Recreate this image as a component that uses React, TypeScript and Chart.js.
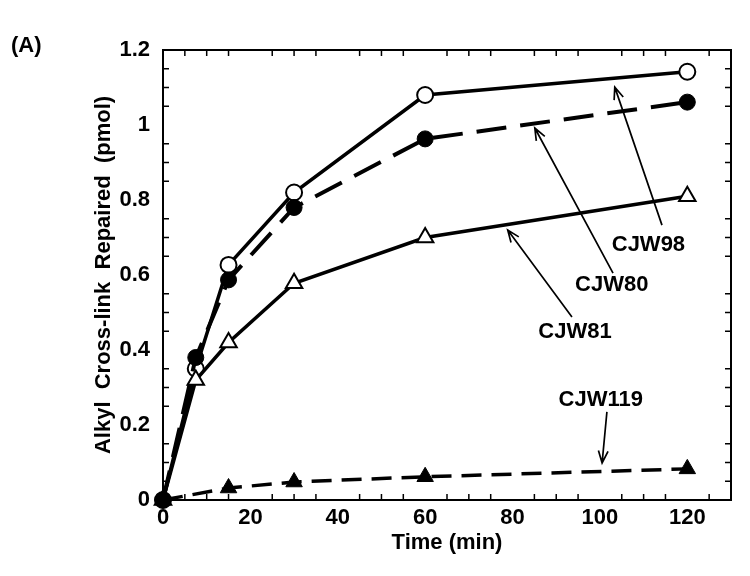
import React, { useEffect, useRef } from "react";
import { Chart, registerables } from "chart.js";
Chart.register(...registerables);

const timesMain = [0, 7.5, 15, 30, 60, 120];
const cjw98 = [0, 0.35, 0.627, 0.82, 1.08, 1.142];
const cjw80 = [0, 0.38, 0.587, 0.78, 0.963, 1.061];
const cjw81 = [0, 0.32, 0.42, 0.578, 0.7, 0.81];
const times119 = [0, 15, 30, 60, 120];
const cjw119 = [0, 0.032, 0.048, 0.062, 0.083];

const xTicks = [0, 20, 40, 60, 80, 100, 120];
const yTicks = [0, 0.2, 0.4, 0.6, 0.8, 1, 1.2];
const xMinorStep = 5;
const yMinorStep = 0.05;

// label, label x, label y, arrow tail x, tail y, arrow head x, head y (data units)
const annLabels = ["CJW98", "CJW80", "CJW81", "CJW119"];
const annLabelX = [111.1, 102.7, 94.3, 100.2];
const annLabelY = [0.68, 0.573, 0.448, 0.267];
const annTailX = [114.2, 103.0, 93.6, 101.6];
const annTailY = [0.733, 0.605, 0.488, 0.235];
const annHeadX = [103.4, 85.1, 78.9, 100.5];
const annHeadY = [1.101, 0.992, 0.72, 0.099];

const FONT = "'Liberation Sans', Arial, Helvetica, sans-serif";

const overlay = {
  id: "overlay",
  beforeDatasetsDraw(chart: any) {
    const { ctx, chartArea: a, scales } = chart;
    const xs = scales.x, ys = scales.y;
    ctx.save();
    ctx.strokeStyle = "#000";
    ctx.lineWidth = 2;
    ctx.strokeRect(a.left, a.top, a.right - a.left, a.bottom - a.top);
    ctx.lineWidth = 1.5;
    const tl = 6;
    ctx.beginPath();
    for (let v = xMinorStep; v < xs.max; v += xMinorStep) {
      if (Math.abs(v / 20 - Math.round(v / 20)) < 1e-6) continue;
      const px = xs.getPixelForValue(v);
      ctx.moveTo(px, a.bottom);
      ctx.lineTo(px, a.bottom - tl);
      ctx.moveTo(px, a.top);
      ctx.lineTo(px, a.top + tl);
    }
    for (let i = 1; i * yMinorStep < ys.max - 1e-9; i++) {
      const v = i * yMinorStep;
      if (i % 4 === 0) continue;
      const py = ys.getPixelForValue(v);
      ctx.moveTo(a.left, py);
      ctx.lineTo(a.left + tl, py);
      ctx.moveTo(a.right, py);
      ctx.lineTo(a.right - tl, py);
    }
    ctx.stroke();
    ctx.restore();
  },
  afterDatasetsDraw(chart: any) {
    const { ctx, scales } = chart;
    const xs = scales.x, ys = scales.y;
    ctx.save();
    ctx.fillStyle = "#000";
    ctx.strokeStyle = "#000";
    ctx.font = `bold 22px ${FONT}`;
    ctx.textAlign = "center";
    ctx.textBaseline = "middle";
    for (let i = 0; i < annLabels.length; i++) {
      ctx.fillText(annLabels[i], xs.getPixelForValue(annLabelX[i]), ys.getPixelForValue(annLabelY[i]));
      const tx = xs.getPixelForValue(annTailX[i]);
      const ty = ys.getPixelForValue(annTailY[i]);
      const hx = xs.getPixelForValue(annHeadX[i]);
      const hy = ys.getPixelForValue(annHeadY[i]);
      ctx.lineWidth = 1.7;
      ctx.beginPath();
      ctx.moveTo(tx, ty);
      ctx.lineTo(hx, hy);
      const ang = Math.atan2(hy - ty, hx - tx);
      const L = 13, sp = 0.38;
      ctx.moveTo(hx - L * Math.cos(ang - sp), hy - L * Math.sin(ang - sp));
      ctx.lineTo(hx, hy);
      ctx.lineTo(hx - L * Math.cos(ang + sp), hy - L * Math.sin(ang + sp));
      ctx.stroke();
    }
    ctx.textAlign = "left";
    ctx.font = `bold 22px ${FONT}`;
    ctx.fillText("(A)", 11, 46);
    ctx.restore();
  },
};

export default function App() {
  const ref = useRef<HTMLCanvasElement | null>(null);
  useEffect(() => {
    if (!ref.current) return;
    const mk = (xv: number[], yv: number[]) => xv.map((x, i) => ({ x, y: yv[i] }));
    const chart = new Chart(ref.current, {
      type: "line",
      data: {
        datasets: [
          {
            label: "CJW119",
            data: mk(times119, cjw119),
            borderColor: "#000",
            borderWidth: 3.5,
            borderDash: [20, 10],
            pointStyle: "triangle",
            pointRadius: 9.5,
            pointBackgroundColor: "#000",
            pointBorderColor: "#000",
            pointBorderWidth: 1,
            clip: false,
          } as any,
          {
            label: "CJW81",
            data: mk(timesMain, cjw81),
            borderColor: "#000",
            borderWidth: 3.5,
            pointStyle: "triangle",
            pointRadius: 9.5,
            pointBackgroundColor: "#fff",
            pointBorderColor: "#000",
            pointBorderWidth: 2,
            clip: false,
          },
          {
            label: "CJW80",
            data: mk(timesMain, cjw80),
            borderColor: "#000",
            borderWidth: 4,
            borderDash: [30, 14],
            pointStyle: "circle",
            pointRadius: 8,
            pointBackgroundColor: "#000",
            pointBorderColor: "#000",
            pointBorderWidth: 1,
            clip: false,
          },
          {
            label: "CJW98",
            data: mk(timesMain, cjw98),
            borderColor: "#000",
            borderWidth: 3.5,
            pointStyle: "circle",
            pointRadius: 8,
            pointBackgroundColor: "#fff",
            pointBorderColor: "#000",
            pointBorderWidth: 2,
            clip: false,
          },
        ],
      },
      options: {
        animation: false,
        responsive: false,
        layout: { padding: { left: 0, top: 50, right: 19, bottom: 0 } },
        plugins: { legend: { display: false }, tooltip: { enabled: false } },
        scales: {
          x: {
            type: "linear",
            min: 0,
            max: 130,
            afterFit: (s: any) => { s.height = 76; },
            afterBuildTicks: (s: any) => { s.ticks = xTicks.map((v) => ({ value: v })); },
            grid: { display: false, drawTicks: false, tickLength: 0 },
            border: { display: false },
            ticks: { color: "#000", padding: 5, font: { family: FONT, size: 22, weight: "bold" }, maxRotation: 0, autoSkip: false, callback: (v: any) => String(v) },
            title: { display: true, text: "Time (min)", color: "#000", font: { family: FONT, size: 22, weight: "bold" }, padding: { top: 0, bottom: 20 } },
          },
          y: {
            type: "linear",
            min: 0,
            max: 1.2,
            afterFit: (s: any) => { s.width = 163; },
            afterBuildTicks: (s: any) => { s.ticks = yTicks.map((v) => ({ value: v })); },
            grid: { display: false, drawTicks: false, tickLength: 0 },
            border: { display: false },
            ticks: { color: "#000", padding: 13, font: { family: FONT, size: 22, weight: "bold" }, autoSkip: false, callback: (v: any) => String(Math.round(v * 10) / 10) },
            title: { display: true, text: "Alkyl  Cross-link  Repaired  (pmol)", color: "#000", font: { family: FONT, size: 22, weight: "bold" }, padding: { top: 91, bottom: 0 } },
          },
        },
      },
      plugins: [overlay],
    });
    return () => chart.destroy();
  }, []);
  return (
    <div style={{ position: "fixed", left: 0, top: 0, width: 750, height: 576, background: "#fff" }}>
      <canvas ref={ref} width={750} height={576} />
    </div>
  );
}
